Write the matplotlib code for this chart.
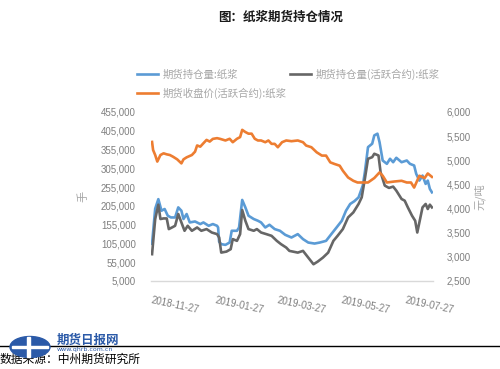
import matplotlib
matplotlib.use("Agg")
import matplotlib.pyplot as plt
import matplotlib.dates as mdates
from matplotlib.patches import Ellipse, Rectangle
import numpy as np
import pandas as pd

plt.rcParams['font.family'] = ['Noto Sans CJK SC', 'DejaVu Sans']

start = pd.Timestamp("2018-11-27")

# day offsets from 2018-11-27 and values
price_days = [0, 1, 3, 5, 8, 11, 14, 17, 20, 24, 28, 30, 33, 38, 41, 43, 46, 49, 52, 55, 58, 62, 65,
              70, 74, 77, 81, 84, 86, 89, 92, 95, 98, 101, 104, 108, 111, 114, 117, 120, 124, 128, 133,
              139, 144, 147, 152, 157, 162, 166, 170, 174, 179, 182, 187, 192, 196, 200, 206, 212, 217,
              220, 224, 231, 238, 243, 247, 250, 255, 260, 263, 267]
price_vals = [5380, 5213, 5109, 4973, 5109, 5144, 5123, 5109, 5074, 5019, 4936, 5019, 5061, 5109, 5178,
              5307, 5282, 5353, 5422, 5387, 5443, 5458, 5443,
              5410, 5445, 5374, 5445, 5480, 5630, 5585, 5551, 5551, 5445, 5410, 5410, 5374, 5410, 5340,
              5340, 5270, 5374, 5410, 5395,
              5410, 5374, 5305, 5270, 5166, 5097, 5097, 4957, 4924, 4888, 4784, 4644, 4575, 4540, 4540,
              4540, 4632, 4749,
              4680, 4540, 4560, 4575, 4540, 4540, 4435, 4680, 4632, 4727, 4656]

total_days = [0, 3, 6, 9, 12, 15, 18, 22, 25, 28, 30, 33, 36, 41, 46, 49, 54, 58, 62, 63, 64, 66, 70, 74,
              76, 81, 83, 86, 89, 92, 97, 101, 104, 108, 112, 117, 122, 127, 133, 139, 144, 149, 155, 160,
              166, 171, 176, 181, 185, 189, 193, 197, 201, 203, 206, 210, 212, 215, 217, 220, 224, 227,
              230, 233, 238, 243, 246, 250, 252, 255, 258, 261, 263, 265, 267]
total_oi = [103900, 197500, 222900, 192100, 196700, 178800, 174200, 174200, 201000, 192100, 170000,
            183300, 160900, 163500, 156600, 160900, 152000, 156600, 152000, 147500, 109300, 103100,
            101200, 107400, 138700, 138700, 147500, 220800, 201000, 178800, 170000, 165400, 160900,
            147500, 154700, 143200, 138700, 128000, 120800, 129800, 116500, 107400, 104700, 107400,
            111900, 129800, 147500, 165400, 192100, 210100, 217500, 227700, 259000, 294600, 361400,
            370500, 392700, 397200, 374800, 325800, 317000, 330400, 321300, 333100, 321300, 325800,
            317000, 312500, 290300, 272400, 285700, 263500, 272400, 250200, 241100]

active_days = [0, 3, 6, 8, 11, 14, 16, 19, 22, 25, 28, 31, 34, 38, 43, 47, 52, 57, 62, 64, 66, 71, 75,
               77, 81, 84, 86, 89, 92, 97, 100, 104, 109, 114, 119, 123, 128, 131, 139, 144, 149, 154,
               158, 163, 168, 173, 177, 182, 187, 192, 193, 197, 200, 203, 206, 210, 212, 216, 218, 222,
               226, 230, 233, 238, 241, 244, 248, 251, 253, 255, 258, 261, 263, 265, 267]
active_oi = [76400, 170000, 208200, 170000, 171600, 171600, 143200, 147500, 152000, 183300, 160900,
             138700, 152000, 138700, 147500, 138700, 143200, 134100, 129800, 120800, 80600, 83300,
             89700, 116500, 111900, 129800, 194000, 165400, 143200, 138700, 143200, 134100, 129800,
             125300, 111900, 103100, 94000, 85200, 80600, 85200, 67300, 49600, 56600, 67300, 80600,
             111900, 125300, 143200, 174200, 187600, 192100, 210100, 227700, 276900, 330400, 334700,
             343800, 339200, 294600, 259000, 252800, 256300, 245600, 223400, 218900, 201000, 178800,
             165400, 134100, 160900, 201000, 210100, 196700, 208200, 201000]

tick_dates = ["2018-11-27", "2019-01-27", "2019-03-27", "2019-05-27", "2019-07-27"]
left_ticks = list(range(5000, 455001, 50000))
right_ticks = list(range(2500, 6001, 500))

title = "图：纸浆期货持仓情况"
lab_total = "期货持仓量:纸浆"
lab_active = "期货持仓量(活跃合约):纸浆"
lab_price = "期货收盘价(活跃合约):纸浆"
source = "数据来源：中州期货研究所"

def to_dates(days):
    return [start + pd.Timedelta(days=int(d)) for d in days]

fig = plt.figure(figsize=(5.0, 3.69), dpi=100)
ax = fig.add_axes([0.302, 0.2385, 0.564, 0.458])
ax2 = ax.twinx()

blue = "#5b9bd5"
orange = "#ed7d31"
tick_col = "#7f7f7f"

l1, = ax.plot(to_dates(total_days), total_oi, color=blue, lw=1.9, label=lab_total, zorder=3)
l2, = ax.plot(to_dates(active_days), active_oi, color="#666666", lw=1.9, label=lab_active, zorder=3)
l3, = ax2.plot(to_dates(price_days), price_vals, color=orange, lw=1.9, label=lab_price, zorder=3)

ax.set_ylim(5000, 455000)
ax.set_yticks(left_ticks)
ax.set_yticklabels([f"{v:,}" for v in left_ticks], family="Liberation Sans", fontsize=7, color=tick_col)
ax2.set_ylim(2500, 6000)
ax2.set_yticks(right_ticks)
ax2.set_yticklabels([f"{v:,}" for v in right_ticks], family="Liberation Sans", fontsize=7, color=tick_col)

ax.set_xlim(start - pd.Timedelta(days=1), start + pd.Timedelta(days=268))
xt = pd.to_datetime(tick_dates)
ax.set_xticks(xt)
ax.set_xticklabels(tick_dates, family="Liberation Sans", fontsize=7, color=tick_col,
                   rotation=-12, ha="left", va="top", rotation_mode="anchor")

for a in (ax, ax2):
    for s in a.spines.values():
        s.set_visible(False)
    a.tick_params(length=0)
ax.spines["bottom"].set_visible(True)
ax.spines["bottom"].set_color("#d9d9d9")
ax.spines["bottom"].set_linewidth(1.0)
ax.tick_params(axis="y", pad=11)
ax.tick_params(axis="x", pad=10)
ax2.tick_params(axis="y", pad=10)

ax.set_ylabel("手", color="#a6a6a6", fontsize=8, labelpad=9)
ax2.set_ylabel("元/吨", color="#a6a6a6", fontsize=8, rotation=90, labelpad=2)

fig.text(0.562, 0.953, title, ha="center", va="center", fontsize=9, weight="bold", color="#1a1a1a")

leg = fig.legend(handles=[l1, l3, l2], labels=[lab_total, lab_price, lab_active], ncol=2,
                 loc="upper left", bbox_to_anchor=(0.266, 0.825), frameon=False,
                 fontsize=7.5, handlelength=2.0, handletextpad=0.45, columnspacing=0.3,
                 labelspacing=0.75, borderaxespad=0)
for t in leg.get_texts():
    t.set_color("#a6a6a6")

# footer
fig.add_artist(plt.Line2D([0, 1], [1 - 346 / 369, 1 - 346 / 369], color="black", lw=1.0))
fig.add_artist(Ellipse((30 / 500, 1 - 347 / 369), 40 / 500, 21 / 369, color="#2b5aa8", zorder=5))
fig.add_artist(Rectangle((12 / 500, 1 - 348 / 369), 36 / 500, 2.5 / 369, color="white", zorder=6))
fig.add_artist(Rectangle((27 / 500, 1 - 357 / 369), 3 / 500, 20 / 369, color="white", zorder=6))
fig.text(57 / 500, 1 - 340 / 369, "期货日报网", fontsize=9, weight="bold", color="#2b5aa8",
         ha="left", va="center", style="italic")
fig.text(57 / 500, 1 - 350 / 369, "www.qhrb.com.cn", fontsize=4.5, color="#2b5aa8",
         ha="left", va="center", family="DejaVu Sans")
fig.text(0.0, 1 - 359 / 369, source, fontsize=8.5, color="black", ha="left", va="center")

fig.savefig("out.png", dpi=100)
